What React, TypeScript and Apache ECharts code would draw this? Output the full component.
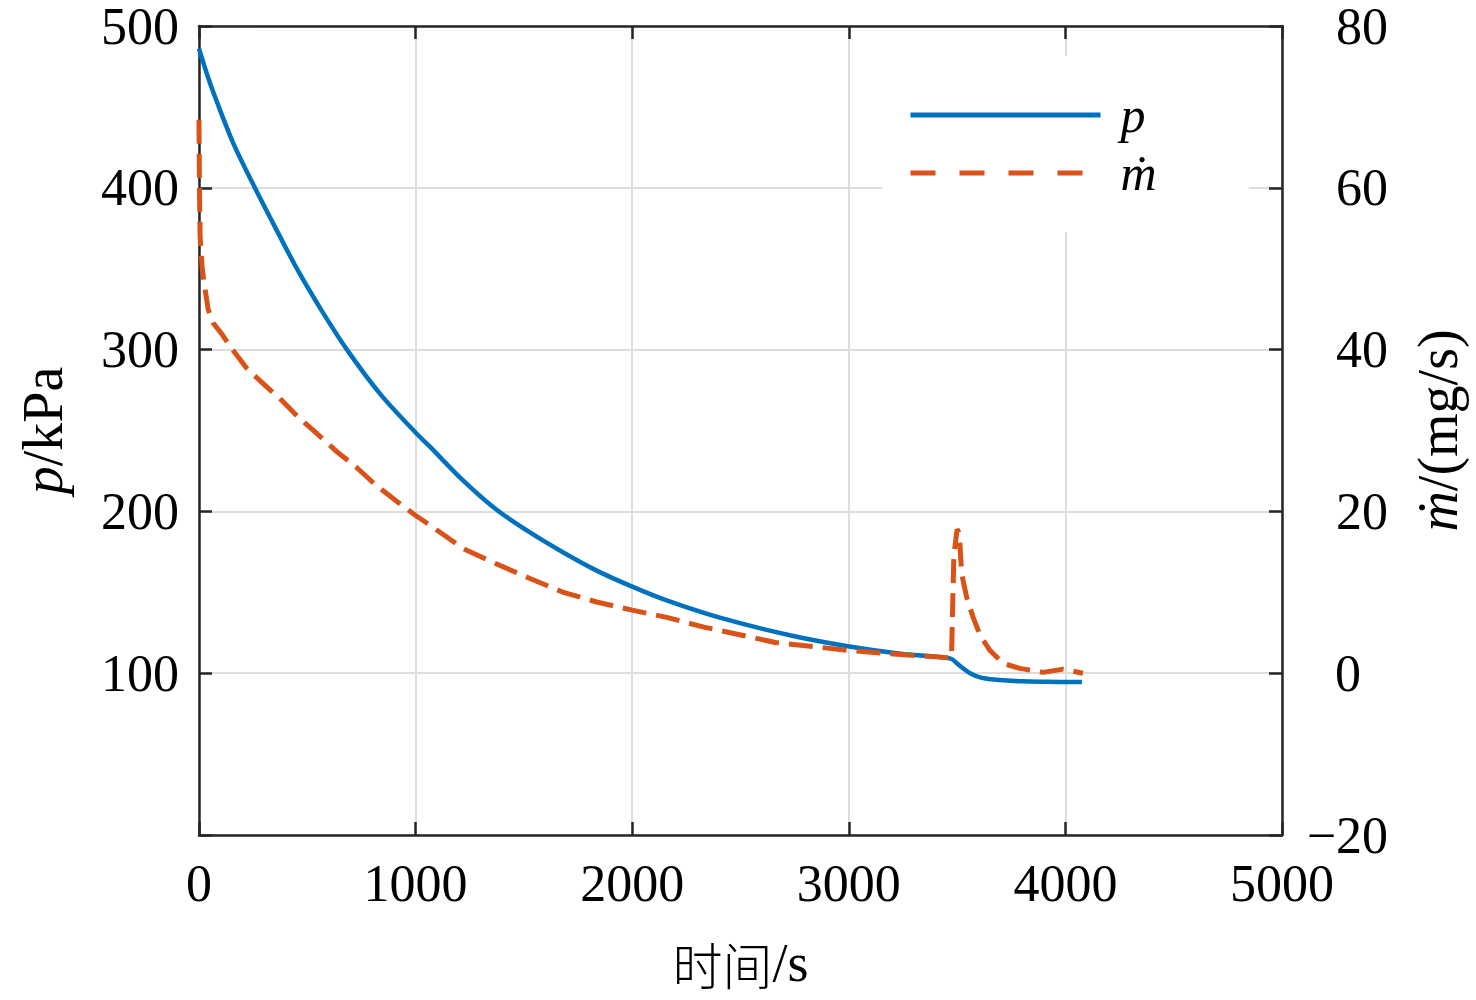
import React, { useEffect, useRef } from "react";
import * as echarts from "echarts";

// time (s) and pressure p (kPa), left axis
const pTime = [0, 40, 83, 160, 258, 350, 452, 560, 683, 840, 1005, 1066, 1220, 1374, 1528, 1682, 1836, 2000, 2159, 2413, 2744, 3003, 3240, 3471, 3500, 3528, 3560, 3606, 3660, 3713, 3800, 3900, 4000, 4076];
const pValues = [486, 469, 453, 427, 400, 376, 350, 325.5, 300, 272, 248, 240, 219, 201, 187, 174.6, 163.4, 153.5, 145, 134, 123, 116.5, 112, 109, 106, 103, 100, 97.4, 96.2, 95.6, 95, 94.7, 94.5, 94.5];

// time (s) and mass flow rate m-dot (mg/s), right axis
const mTime = [0, 2, 5, 15, 25, 42, 65, 106, 152, 220, 300, 383, 460, 545, 640, 729, 810, 896, 1000, 1066, 1220, 1374, 1528, 1682, 1836, 2000, 2159, 2331, 2661, 3003, 3240, 3474, 3485, 3500, 3510, 3521, 3544, 3574, 3606, 3652, 3713, 3790, 3897, 3990, 4081];
const mValues = [68.4, 60, 54, 50, 48, 45, 43.3, 41.9, 40.1, 37.7, 35.7, 33.7, 31.6, 29.6, 27.3, 25.4, 23.4, 21.6, 19.5, 18.3, 15.4, 13.5, 11.7, 10.0, 8.8, 7.8, 6.9, 5.7, 3.8, 2.8, 2.3, 1.9, 14.5, 17.8, 17.3, 12.3, 9.4, 6.9, 4.7, 2.8, 1.2, 0.6, 0.1, 0.5, 0];

const xTicks = { min: 0, max: 5000, interval: 1000 };
const leftTicks = { min: 0, max: 500, interval: 100 };
const rightTicks = { min: -20, max: 80, interval: 20 };

const SERIF = "'Liberation Serif', 'Times New Roman', serif";
const AXIS_COLOR = "#262626";
const GRID_COLOR = "#dddddd";
const BLUE = "#0072BD";
const ORANGE = "#D95319";
const FS = 52;
const NAME_FS = 56;

export default function App() {
  const ref = useRef<HTMLDivElement>(null);

  useEffect(() => {
    if (!ref.current) return;
    const chart = echarts.init(ref.current, undefined, { renderer: "svg" });

    const axisLine = { show: true, onZero: false, lineStyle: { color: AXIS_COLOR, width: 2.5 } };
    const axisTick = { show: true, inside: true, length: 13, lineStyle: { color: AXIS_COLOR, width: 2.5 } };

    const option = {
      animation: false,
      backgroundColor: "#ffffff",
      grid: { left: 199, right: 194, top: 24, bottom: 165, containLabel: false },
      legend: {
        orient: "vertical",
        left: 882,
        top: 56,
        backgroundColor: "#ffffff",
        padding: [30, 92, 30, 26],
        itemGap: 0,
        itemWidth: 190,
        itemHeight: 14,
        selectedMode: false,
        itemStyle: { opacity: 0 },
        textStyle: {
          fontFamily: SERIF,
          fontStyle: "italic",
          fontSize: 50,
          color: "#000000",
          lineHeight: 58,
          padding: [0, 0, 0, 15],
        },
        data: [
          { name: "p", lineStyle: { color: BLUE, width: 5, type: "solid" } },
          { name: "ṁ", lineStyle: { color: ORANGE, width: 5, type: [25, 24] } },
        ],
      },
      xAxis: [
        {
          type: "value",
          position: "bottom",
          ...xTicks,
          axisLine,
          axisTick,
          splitLine: { show: true, lineStyle: { color: GRID_COLOR, width: 2 } },
          axisLabel: { fontFamily: SERIF, fontSize: FS, lineHeight: 44, color: "#000000", margin: 26, formatter: (v: number) => String(v) },
          name: "{cn|时间}/s",
          nameLocation: "middle",
          nameGap: 102,
          nameTextStyle: {
            fontFamily: SERIF,
            fontSize: 54,
            lineHeight: 52,
            color: "#000000",
            rich: {
              cn: { fontFamily: "'Noto Sans CJK SC', sans-serif", fontSize: 50, lineHeight: 52, color: "#000000", fontWeight: 300 },
            },
          },
        },
        {
          type: "value",
          position: "top",
          ...xTicks,
          axisLine,
          axisTick,
          splitLine: { show: false },
          axisLabel: { show: false },
        },
      ],
      yAxis: [
        {
          type: "value",
          position: "left",
          ...leftTicks,
          axisLine,
          axisTick,
          splitLine: { show: true, lineStyle: { color: GRID_COLOR, width: 2 } },
          axisLabel: {
            fontFamily: SERIF,
            fontSize: FS,
            lineHeight: 44,
            color: "#000000",
            margin: 20,
            formatter: (v: number) => (v === 0 ? "" : String(v)),
          },
          name: "{i|p}/kPa",
          nameLocation: "middle",
          nameRotate: 90,
          nameGap: 128,
          nameTextStyle: {
            fontFamily: SERIF,
            fontSize: NAME_FS,
            color: "#000000",
            rich: { i: { fontFamily: SERIF, fontStyle: "italic", fontSize: NAME_FS, color: "#000000" } },
          },
        },
        {
          type: "value",
          position: "right",
          ...rightTicks,
          axisLine,
          axisTick,
          splitLine: { show: false },
          axisLabel: {
            fontFamily: SERIF,
            fontSize: FS,
            lineHeight: 44,
            color: "#000000",
            margin: 106,
            align: "right",
            formatter: (v: number) => (v === 0 ? "{z|0}" : String(v).replace("-", "\u2212")),
            rich: { z: { fontFamily: SERIF, fontSize: FS, lineHeight: 44, color: "#000000", padding: [0, 27, 0, 0] } },
          },
          name: "{i|ṁ}/(mg/s)",
          nameLocation: "middle",
          nameRotate: 90,
          nameGap: 128,
          nameTextStyle: {
            fontFamily: SERIF,
            fontSize: NAME_FS,
            color: "#000000",
            rich: { i: { fontFamily: SERIF, fontStyle: "italic", fontSize: NAME_FS, color: "#000000" } },
          },
        },
      ],
      series: [
        {
          name: "p",
          type: "line",
          xAxisIndex: 0,
          yAxisIndex: 0,
          showSymbol: false,
          symbol: "none",
          smooth: 0.3,
          lineStyle: { color: BLUE, width: 4.5 },
          itemStyle: { color: BLUE },
          data: pTime.map((t, i) => [t, pValues[i]]),
          z: 2,
        },
        {
          name: "ṁ",
          type: "line",
          xAxisIndex: 0,
          yAxisIndex: 1,
          showSymbol: false,
          symbol: "none",
          smooth: false,
          lineStyle: { color: ORANGE, width: 5, type: [24, 10] },
          itemStyle: { color: ORANGE },
          data: mTime.map((t, i) => [t, mValues[i]]),
          z: 3,
        },
      ],
    };

    chart.setOption(option as any);
    return () => chart.dispose();
  }, []);

  return <div ref={ref} style={{ position: "fixed", left: 0, top: 0, width: 1476, height: 1000 }} />;
}
